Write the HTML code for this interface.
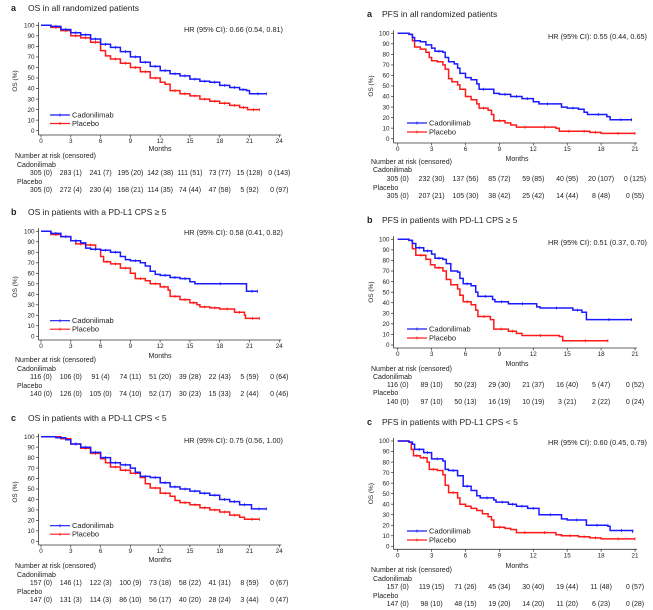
<!DOCTYPE html>
<html><head><meta charset="utf-8"><style>
body{margin:0;background:#fff;}
svg{display:block;font-family:"Liberation Sans",sans-serif;}
</style></head><body>
<svg id="s" width="653" height="610" viewBox="0 0 653 610" xmlns="http://www.w3.org/2000/svg"></svg>
<script>
const S=document.getElementById('s');let out='';
const B='#1a1aff',R='#ff1a1a';
function T(x,y,t,o){o=o||{};out+=`<text x="${x}" y="${y}" font-size="${o.fs||7}" fill="#222" text-anchor="${o.a||'start'}"${o.w?' font-weight="bold"':''}${o.tr?` transform="${o.tr}"`:''}>${t}</text>`;}
function P(c){
 const X=t=>c.x0+(c.x1-c.x0)*t/c.xmax, Y=v=>c.y0+(c.y100-c.y0)*v/100;
 T(c.lx,c.ty,c.lab,{fs:9,w:1});T(c.tx,c.ty,c.title,{fs:8.5});
 out+=`<line x1="${c.ax}" y1="${Y(100)-3}" x2="${c.ax}" y2="${c.xa}" stroke="#333" stroke-width="0.8"/>`;
 for(let v=0;v<=100;v+=10){out+=`<line x1="${c.ax-2.5}" y1="${Y(v)}" x2="${c.ax}" y2="${Y(v)}" stroke="#333" stroke-width="0.7"/>`;T(c.ax-4,Y(v)+2.2,v,{fs:6.3,a:'end'});}
 T(c.oy[0],c.oy[1],'OS (%)',{fs:6.5,a:'middle',tr:`rotate(-90 ${c.oy[0]} ${c.oy[1]})`});
 out+=`<line x1="${c.ax}" y1="${c.xa}" x2="${X(c.xmax)+2}" y2="${c.xa}" stroke="#333" stroke-width="0.8"/>`;
 for(let t=0;t<=c.xmax;t+=3){out+=`<line x1="${X(t)}" y1="${c.xa}" x2="${X(t)}" y2="${c.xa+2.5}" stroke="#333" stroke-width="0.7"/>`;T(X(t),c.xa+8,t,{fs:6.3,a:'middle'});}
 T(c.mx,c.my,'Months',{fs:7,a:'middle'});
 T(c.hx,c.hy,c.hr,{fs:7.3,a:'end'});
 [[c.pl,R],[c.cd,B]].forEach(([d,col])=>{
  let p=`M${X(d[0]).toFixed(1)},${Y(d[1]).toFixed(1)}`;let cens='';
  for(let i=2;i<d.length;i+=2){p+=`H${X(d[i]).toFixed(1)}V${Y(d[i+1]).toFixed(1)}`;}
  for(let i=2;i<d.length-2;i+=2){const tx=(d[i]+d[i+2])/2;if(d[i+2]-d[i]>0.6)cens+=`M${X(tx).toFixed(1)},${(Y(d[i+1])-1.5).toFixed(1)}v3`;}
  const e=d.length-2;cens+=`M${X(d[e]).toFixed(1)},${(Y(d[e+1])-1.5).toFixed(1)}v3`;
  out+=`<path d="${p}" fill="none" stroke="${col}" stroke-width="1.5"/><path d="${cens}" stroke="${col}" stroke-width="0.8"/>`;
 });
 [[c.lg[1],B,'Cadonilimab'],[c.lg[2],R,'Placebo']].forEach(([y,col,n])=>{out+=`<line x1="${c.lg[0]}" y1="${y}" x2="${c.lg[0]+20}" y2="${y}" stroke="${col}" stroke-width="1.2"/><line x1="${c.lg[0]+10}" y1="${y-1.5}" x2="${c.lg[0]+10}" y2="${y+1.5}" stroke="${col}" stroke-width="0.8"/>`;T(c.lg[0]+22,y+2.5,n,{fs:7.5});});
 T(c.rx,c.ry[0],'Number at risk (censored)',{fs:7});
 T(c.rx+2,c.ry[1],'Cadonilimab',{fs:7});T(c.rx+2,c.ry[3],'Placebo',{fs:7});
 c.r1.forEach((s,i)=>T(X(i*3),c.ry[2],s,{fs:7,a:'middle'}));
 c.r2.forEach((s,i)=>T(X(i*3),c.ry[4],s,{fs:7,a:'middle'}));
}
const L=(o,ty,y100,y0,xa,my,hy,lg1,r)=>({lx:11,tx:28,ty:o+ty,ax:38.5,x0:41,x1:279.3,xmax:24,y100:o+y100,y0:o+y0,xa:o+xa,mx:160,my:o+my,hx:283,hy:o+hy,oy:[17,o+(y100+y0)/2+3],lg:[50,o+lg1,o+lg1+8.5],rx:15,ry:r.map(v=>o+v)});
const Rt=(o,ty,y100,y0,xa,my,hy,lg1,r)=>({lx:367,tx:382,ty:o+ty,ax:393.5,x0:397.7,x1:635,xmax:21,y100:o+y100,y0:o+y0,xa:o+xa,mx:517,my:o+my,hx:647,hy:o+hy,oy:[373,o+(y100+y0)/2],lg:[407,o+lg1,o+lg1+9],rx:371,ry:r.map(v=>o+v)});
let c;
c=L(0,11,25.3,130.7,135,151,32,115,[158,167,175,184,192]);
Object.assign(c,{lab:'a',title:'OS in all randomized  patients',hr:'HR (95% CI): 0.66 (0.54, 0.81)',
cd:[0,100,1,99,2,96,3,93,4,91,5,87,6,82,7,79,8,75,9,70,10,65,11,61,12,57,13,54,14,52,15,49,16,47,17,46,18,43,19,41,20,39,20.7,38,21,35,22.7,35],
pl:[0,100,1,98,2,95,3,90,4,88,5,84,6,76,6.5,71,7,68,8,64,9,60,10,56,11,50,12,46,12.5,44,13,38,14,35,15,33,16,30,17,28,18,26,19,24,20,22,20.8,20,22,20],
r1:['305 (0)','283 (1)','241 (7)','195 (20)','142 (38)','111 (51)','73 (77)','15 (128)','0 (143)'],
r2:['305 (0)','272 (4)','230 (4)','168 (21)','114 (35)','74 (44)','47 (58)','5 (92)','0 (97)']});P(c);
c=L(200,15,31.3,136.3,140,158,35,120.7,[162,171,179,188,196]);
Object.assign(c,{lab:'b',title:'OS in patients with a PD-L1 CPS ≥ 5',hr:'HR (95% CI): 0.58 (0.41, 0.82)',
cd:[0,100,1,98,2,95,3,91,4,89,4.5,84,5,83,6,82,7,80,8,76,8.5,73,9,72,10,70,10.5,67,11,62,11.5,59,12,58,13,56,14,55,15,52,15.5,50,20.6,50,20.7,43,21.8,43],
pl:[0,100,1,97,2,95,3,91,3.5,88,4.5,87,5.5,83,6,76,6.3,71,7,69,8,65,9,60,9.5,55,10.5,53,11,50,12,47,12.8,44,13,38,14,35,15,32,15.7,30,16,28,17,27,18,26,19.5,23,20.5,20,20.6,17,22,17],
r1:['116 (0)','106 (0)','91 (4)','74 (11)','51 (20)','39 (28)','22 (43)','5 (59)','0 (64)'],
r2:['140 (0)','126 (0)','105 (0)','74 (10)','52 (17)','30 (23)','15 (33)','2 (44)','0 (46)']});P(c);
c=L(400,21,36.7,141.3,145,162,43,125.7,[168,177,185,194,202]);
Object.assign(c,{lab:'c',title:'OS in patients with a PD-L1 CPS < 5',hr:'HR (95% CI): 0.75 (0.56, 1.00)',
cd:[0,100,1.5,99,2.5,97,3,93,4,90,5,85,6,80,7,75,8,73,9,70,9.5,66,10,62,11,61,12,56,13,52,14,50,15,48,16,46,17,44,18,40,19,38,20,35,21,35,21.2,31,22.7,31],
pl:[0,100,1.5,100,2,98,3,93,4,89,5,84,6,79,6.5,75,7,71,8,68,9,65,10,61,10.5,55,11,51,12,46,13,43,13.5,39,14,37,15,35,16,32,17,30,18,28,19,25,20,23,20.5,21,22,21],
r1:['157 (0)','146 (1)','122 (3)','100 (9)','73 (18)','58 (22)','41 (31)','8 (59)','0 (67)'],
r2:['147 (0)','131 (3)','114 (3)','86 (10)','56 (17)','40 (20)','28 (24)','3 (44)','0 (47)']});P(c);
c=Rt(0,17,33.3,138.7,143,161,39,123,[164,172,181,190,198]);
Object.assign(c,{lab:'a',title:'PFS in all randomized patients',hr:'HR (95% CI): 0.55 (0.44, 0.65)',
cd:[0,100,1,99,1.3,96,1.5,93,2,92,2.5,89,3,86,3.3,83,4,82,4.2,77,4.5,73,5,71,5.3,67,5.5,62,6,58,6.5,56,7,52,7.2,47,8,47,8.5,43,9,42,10,40,11,38,12,35,12.5,33,14,33,14.5,30,15,29,16,28,16.5,25,16.8,23,17,23,18.5,21,18.8,18,20.7,18],
pl:[0,100,1,99,1.3,93,1.5,87,2,85,2.5,82,2.8,77,3,74,3.5,73,4,70,4.2,66,4.5,57,4.8,54,5.3,51,5.5,47,6,40,6.5,37,7,33,7.2,29,8,27,8.3,23,8.5,17,9.5,15,10,13,10.5,11,12,11,14,10,14.3,7,16,7,17,6,18,5,21,5],
r1:['305 (0)','232 (30)','137 (56)','85 (72)','59 (85)','40 (95)','20 (107)','0 (125)'],
r2:['305 (0)','207 (21)','105 (30)','38 (42)','25 (42)','14 (44)','8 (48)','0 (55)']});P(c);
c=Rt(200,23,39.3,145,148,166,45,129,[171,179,187,195,204]);
Object.assign(c,{lab:'b',title:'PFS in patients with PD-L1 CPS ≥ 5',hr:'HR (95% CI): 0.51 (0.37, 0.70)',
cd:[0,100,1,99,1.3,96,1.6,92,2.3,89,3,86,3.3,82,4,81,4.3,77,4.7,70,5.3,69,5.5,63,5.8,58,6.5,56,6.9,50,7.1,46,8.4,43,8.6,41,9.8,39,12.3,36,12.6,35,15.5,33,16.3,31,16.7,24,20.7,24],
pl:[0,100,1,99,1.3,91,1.6,85,2.5,81,2.9,76,3.3,73,4,70,4.3,62,4.7,57,5.3,53,5.5,47,5.8,41,6.5,38,6.9,33,7.1,27,8.2,24,8.5,15,9.8,13,10.5,11,11,9,14.3,8,14.6,4,18.6,4],
r1:['116 (0)','89 (10)','50 (23)','29 (30)','21 (37)','16 (40)','5 (47)','0 (52)'],
r2:['140 (0)','97 (10)','50 (13)','16 (19)','10 (19)','3 (21)','2 (22)','0 (24)']});P(c);
c=Rt(410,15,31,136.3,139.3,158,35,121,[162,171,179,188,196]);
Object.assign(c,{lab:'c',title:'PFS in patients with PD-L1 CPS < 5',hr:'HR (95% CI): 0.60 (0.45, 0.79)',
cd:[0,100,1,99,1.3,97,1.5,92,2.3,89,3,83,4,81,4.2,73,4.5,72,5.3,67,5.8,57,6.5,53,7,48,7.3,46,8.5,44,8.7,42,9.8,40,10.5,38,11.5,36,12.5,30,14.5,26,15,25,16.7,20,18.6,19,18.8,15,20.8,14],
pl:[0,100,1,99,1.2,92,1.4,86,2,84,2.6,80,2.8,73,3.5,72,4,68,4.2,58,4.5,51,5.3,46,5.5,40,6,38,6.5,36,7,34,7.5,31,8,28,8.3,25,8.5,18,9.5,17,10,16,10.5,13,12,13,14,11,14.5,10,16,9,17,8,18,7,21,7],
r1:['157 (0)','119 (15)','71 (26)','45 (34)','30 (40)','19 (44)','11 (48)','0 (57)'],
r2:['147 (0)','98 (10)','48 (15)','19 (20)','14 (20)','11 (20)','6 (23)','0 (28)']});P(c);
S.innerHTML=out;
</script>
</body></html>
